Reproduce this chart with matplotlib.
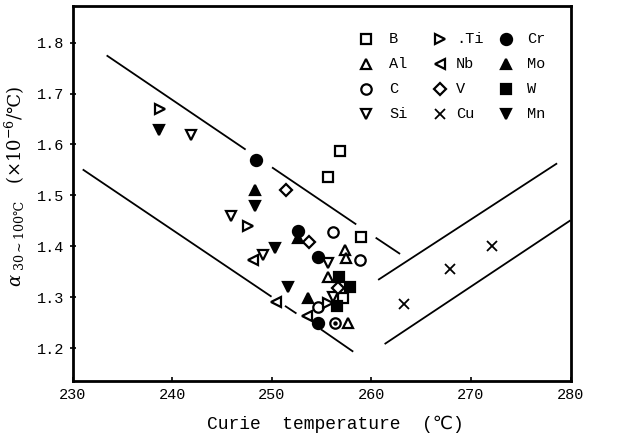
import matplotlib
matplotlib.use("Agg")
import matplotlib.pyplot as plt

# ---- data ----
B_T = [256.8, 255.6, 259.0, 257.1]
B_v = [1.588, 1.537, 1.419, 1.298]
Al_T = [257.3, 257.4, 255.6, 257.6]
Al_v = [1.392, 1.377, 1.340, 1.249]
C_T = [256.1, 258.9, 254.6, 256.3]
C_v = [1.429, 1.373, 1.281, 1.249]
Si_T = [241.9, 245.9, 249.1, 255.6, 256.1]
Si_v = [1.619, 1.460, 1.382, 1.367, 1.301]
Ti_T = [238.8, 247.6, 255.6]
Ti_v = [1.670, 1.439, 1.288]
Nb_T = [248.1, 250.4, 253.5]
Nb_v = [1.373, 1.291, 1.263]
V_T = [251.4, 253.7, 256.6]
V_v = [1.510, 1.409, 1.319]
Cu_T = [263.3, 267.9, 272.1]
Cu_v = [1.287, 1.355, 1.401]
Cr_T = [248.4, 252.6, 254.6, 254.6]
Cr_v = [1.570, 1.430, 1.378, 1.250]
Mo_T = [248.3, 252.6, 253.6]
Mo_v = [1.511, 1.416, 1.298]
W_T = [256.7, 257.9, 256.5]
W_v = [1.340, 1.321, 1.283]
Mn_T = [238.7, 248.3, 250.3, 251.6]
Mn_v = [1.629, 1.480, 1.396, 1.321]
dot_T = [256.3]
dot_v = [1.249]

# guide lines (segments, endpoints)
upper_left_T = [[233.5, 247.3], [250.1, 258.4], [260.5, 262.8]]
upper_left_v = [[1.774, 1.591], [1.554, 1.444], [1.416, 1.386]]
lower_left_T = [[231.1, 249.9], [251.4, 252.4], [255.0, 258.1]]
lower_left_v = [[1.550, 1.302], [1.282, 1.269], [1.236, 1.194]]
upper_right_T = [260.75, 278.56]
upper_right_v = [1.335, 1.562]
lower_right_T = [261.4, 279.9]
lower_right_v = [1.209, 1.450]

x_ticks = [230, 240, 250, 260, 270, 280]
y_ticks = [1.2, 1.3, 1.4, 1.5, 1.6, 1.7, 1.8]
y_ticklabels = ["1.2", "1.3", "1.4", "1.5", "1.6", "1.7", "1.8"]

FONT = ["Liberation Mono", "DejaVu Sans Mono", "DejaVu Sans"]
plt.rcParams['font.family'] = FONT
plt.rcParams['mathtext.fontset'] = 'dejavuserif'

W_PX, H_PX = 621, 436
AX_L, AX_R, AX_T, AX_B = 72.5, 570.7, 6.0, 380.7

fig = plt.figure(figsize=(W_PX / 100, H_PX / 100), dpi=100)
ax = fig.add_axes([AX_L / W_PX, 1 - AX_B / H_PX, (AX_R - AX_L) / W_PX, (AX_B - AX_T) / H_PX])


def fx(px):
    return (px - AX_L) / (AX_R - AX_L)


def fy(py):
    return (AX_B - py) / (AX_B - AX_T)


lw = 1.3
for Ts, vs in zip(upper_left_T, upper_left_v):
    ax.plot(Ts, vs, color='black', lw=lw, zorder=1)
for Ts, vs in zip(lower_left_T, lower_left_v):
    ax.plot(Ts, vs, color='black', lw=lw, zorder=1)
ax.plot(upper_right_T, upper_right_v, color='black', lw=lw, zorder=1)
ax.plot(lower_right_T, lower_right_v, color='black', lw=lw, zorder=1)

ms = 7.5
mew = 1.6
open_kw = dict(linestyle='none', mfc='white', mec='black', mew=mew, zorder=3)
fill_kw = dict(linestyle='none', mfc='black', mec='black', mew=mew, zorder=3)

series = [
    (B_T, B_v, 's', 'B', open_kw, ms - 0.5),
    (Al_T, Al_v, '^', 'Al', open_kw, ms),
    (C_T, C_v, 'o', 'C', open_kw, ms),
    (Si_T, Si_v, 'v', 'Si', open_kw, ms),
    (Ti_T, Ti_v, '>', '.Ti', open_kw, ms),
    (Nb_T, Nb_v, '<', 'Nb', open_kw, ms),
    (V_T, V_v, 'D', 'V', open_kw, ms - 1),
    (Cu_T, Cu_v, 'x', 'Cu', open_kw, ms),
    (Cr_T, Cr_v, 'o', 'Cr', fill_kw, ms + 0.5),
    (Mo_T, Mo_v, '^', 'Mo', fill_kw, ms),
    (W_T, W_v, 's', 'W', fill_kw, ms - 0.5),
    (Mn_T, Mn_v, 'v', 'Mn', fill_kw, ms),
]

# legend layout (3 columns x 4 rows), in figure pixels
leg_marker_x = [366, 440, 506]
leg_text_x = [389, 456, 527]
leg_row_y = [39, 64, 89, 114]

for i, (T, v, m, lab, kw, s) in enumerate(series):
    kw2 = dict(kw)
    kw2['ms'] = s
    if m == 'x':
        kw2['mew'] = 1.3
    ax.plot(T, v, marker=m, **kw2)
    col, row = divmod(i, 4)
    ax.plot([fx(leg_marker_x[col])], [fy(leg_row_y[row])], marker=m,
            transform=ax.transAxes, clip_on=False, **kw2)
    ax.text(fx(leg_text_x[col]), fy(leg_row_y[row]), lab, transform=ax.transAxes,
            ha='left', va='center', fontsize=11)
ax.plot(dot_T, dot_v, marker='o', linestyle='none', color='black', ms=2.2, zorder=4)

ax.set_xlim(230, 280)
ax.set_ylim(1.136, 1.872)
ax.set_xticks(x_ticks)
ax.set_xticklabels([str(t) for t in x_ticks])
ax.set_yticks(y_ticks)
ax.set_yticklabels(y_ticklabels)
ax.tick_params(axis='x', direction='in', length=3, width=1.2, labelsize=11, pad=5)
ax.tick_params(axis='y', direction='inout', length=4, width=1.2, labelsize=11, pad=4)
for sp in ax.spines.values():
    sp.set_linewidth(2.0)

ax.set_xlabel("Curie  temperature  (\u2103)", fontsize=13)
ax.xaxis.set_label_coords(fx(335), fy(416))
ax.set_ylabel("$\\alpha_{\\ 30\\sim100\u2103}\\quad(\\times10^{-6}/\u2103)$", fontsize=13)
ax.yaxis.set_label_coords(fx(27), fy(186))

fig.savefig("out.png", dpi=100)
